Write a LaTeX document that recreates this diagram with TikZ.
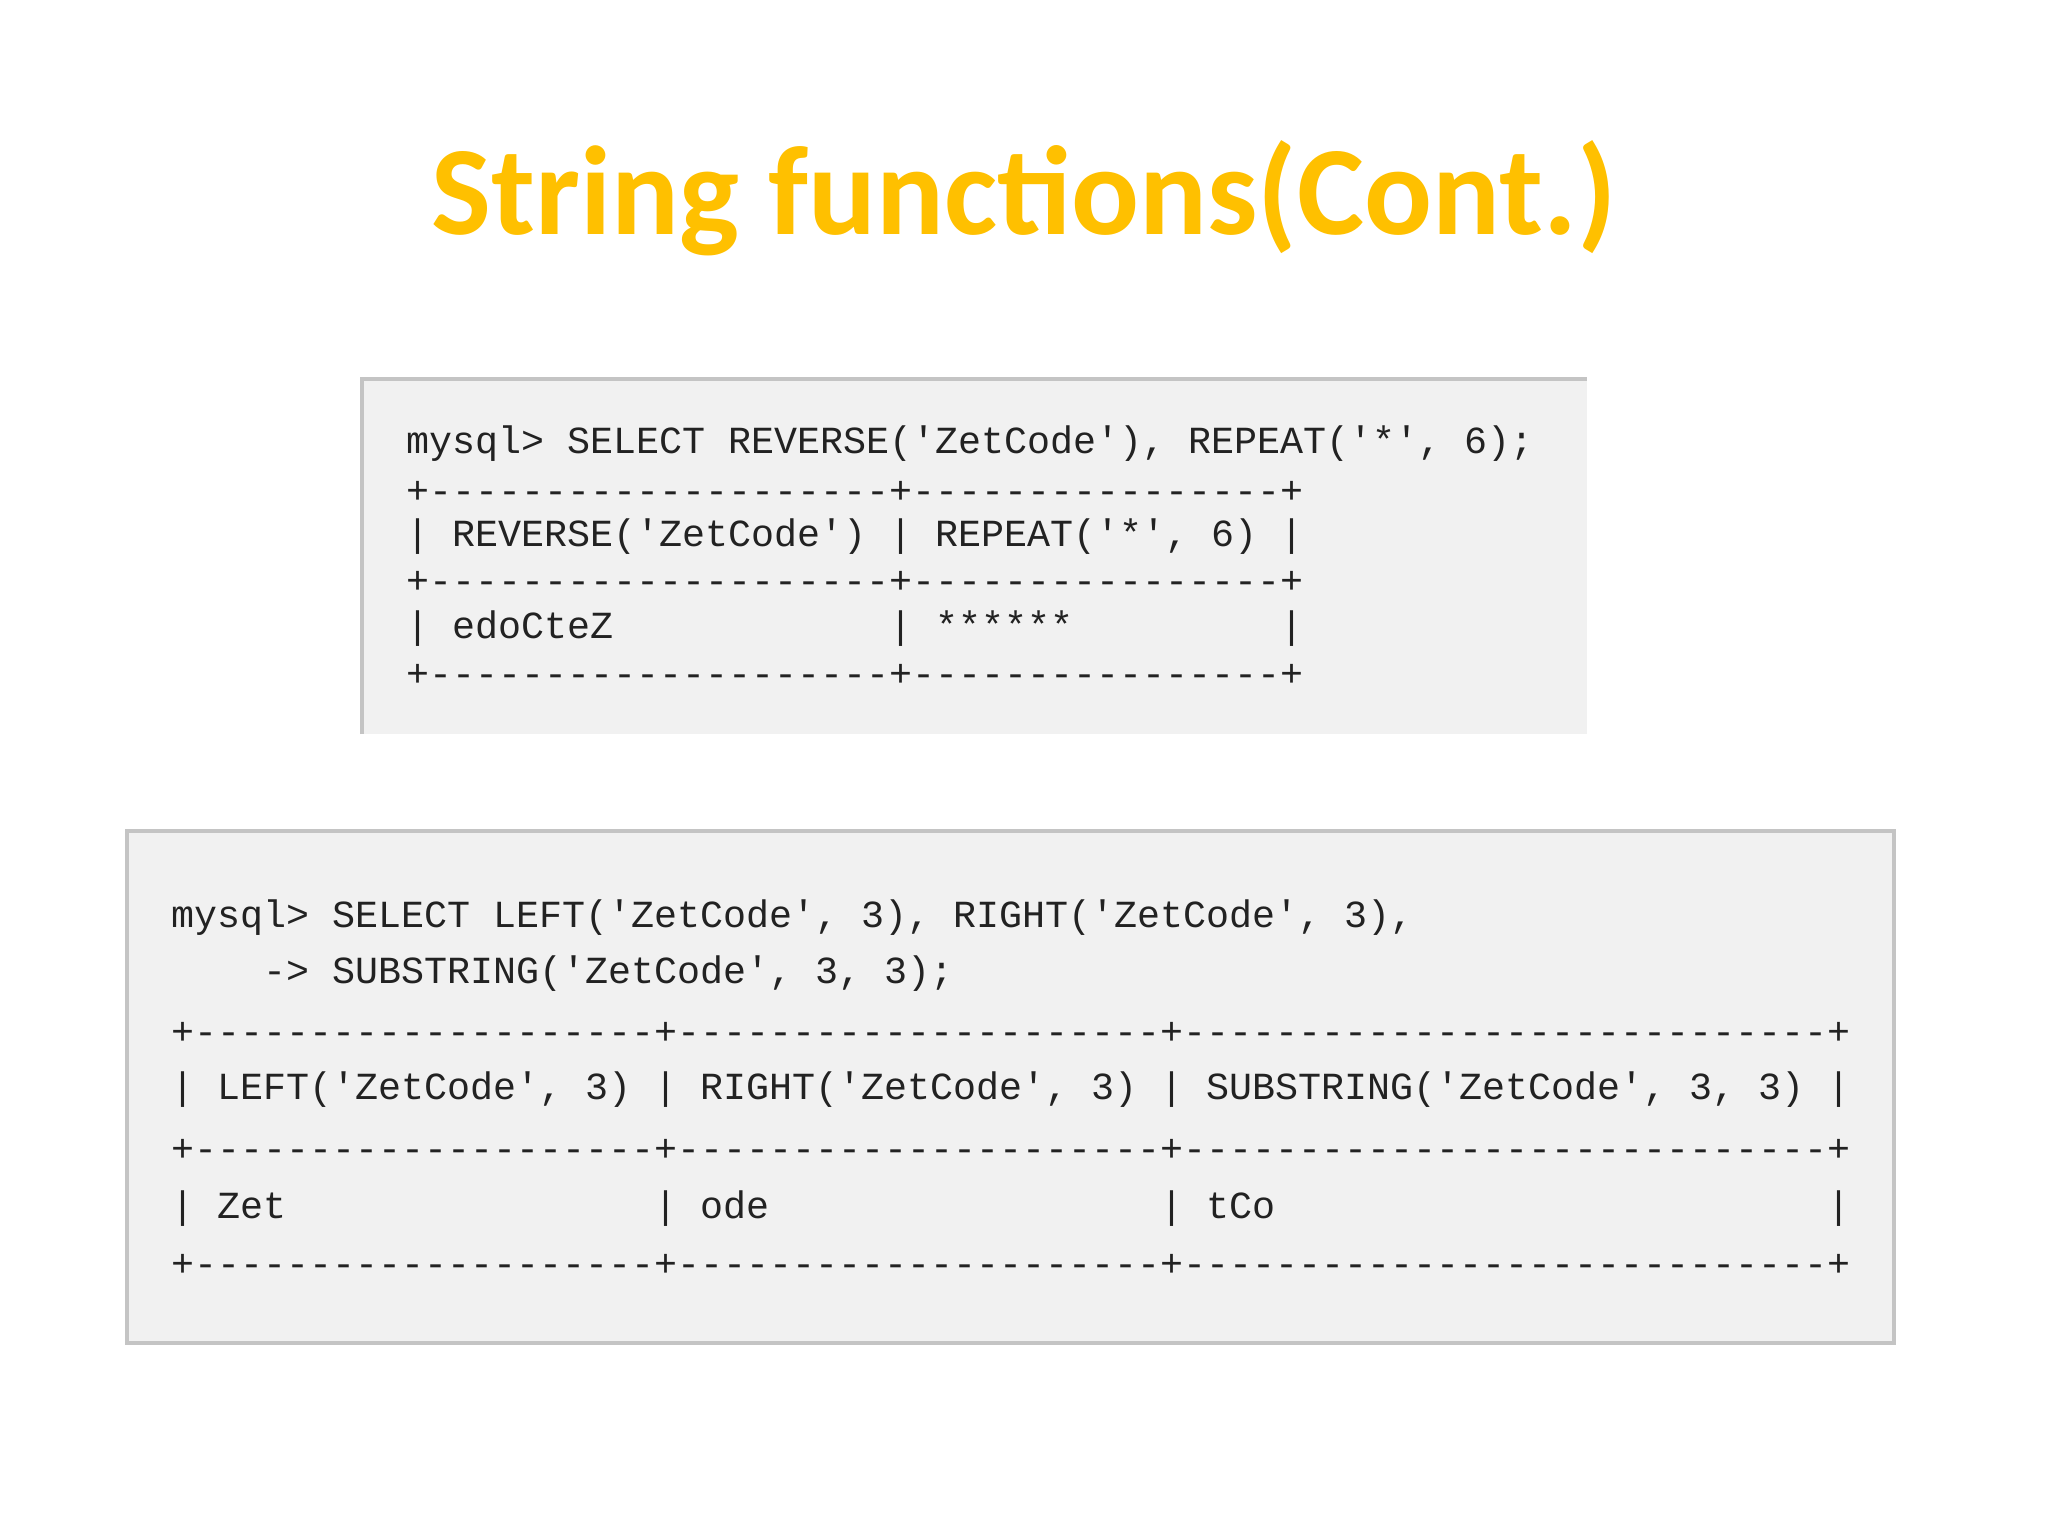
\documentclass[tikz,border=0pt]{standalone}
\usepackage{fontspec}
\setmainfont{Carlito}
\setmonofont{Liberation Mono}
\definecolor{titlegold}{HTML}{FFC000}
\definecolor{codebg}{HTML}{F1F1F1}
\definecolor{codeedge}{HTML}{C4C4C4}
\definecolor{codeink}{HTML}{222222}
\begin{document}
\begin{tikzpicture}[x=0.01cm,y=-0.01cm,
  code/.style={anchor=west,inner sep=0,text=codeink,font=\ttfamily\fontsize{10.9}{13}\selectfont},
  panel/.style={fill=codebg,draw=none}]
  \useasboundingbox[fill=white] (0,0) rectangle (2048,1536);
  % title
  \node (title) at (1024,198) [text=titlegold,font=\bfseries\fontsize{36}{42}\selectfont] {String functions(Cont.)};
  % first box
  \fill[panel] (362,379) rectangle (1587,734);
  \draw[codeedge,line width=1pt] (362,734) -- (362,379) -- (1587,379);
  \node (qa) at (406,444) [code] {mysql> SELECT REVERSE('ZetCode'), REPEAT('*', 6);};
  \node (ra) at (406,492) [code] {+--------------------+----------------+};
  \node (rb) at (406,537) [code] {| REVERSE('ZetCode') | REPEAT('*', 6) |};
  \node (rc) at (406,582) [code] {+--------------------+----------------+};
  \node (rd) at (406,629) [code] {|~edoCteZ~~~~~~~~~~~~|~******~~~~~~~~~|};
  \node (re) at (406,675) [code] {+--------------------+----------------+};
  % second box
  \fill[panel] (127,831) rectangle (1894,1343);
  \draw[codeedge,line width=1pt] (127,831) rectangle (1894,1343);
  \node (qb) at (171,918) [code] {mysql> SELECT LEFT('ZetCode', 3), RIGHT('ZetCode', 3),};
  \node (qc) at (171,974) [code] {~~~~-> SUBSTRING('ZetCode', 3, 3);};
  \node (sa) at (171,1033) [code] {+--------------------+---------------------+----------------------------+};
  \node (sb) at (171,1090) [code] {| LEFT('ZetCode', 3) | RIGHT('ZetCode', 3) | SUBSTRING('ZetCode', 3, 3) |};
  \node (sc) at (171,1150) [code] {+--------------------+---------------------+----------------------------+};
  \node (sd) at (171,1209) [code] {|~Zet~~~~~~~~~~~~~~~~|~ode~~~~~~~~~~~~~~~~~|~tCo~~~~~~~~~~~~~~~~~~~~~~~~|};
  \node (se) at (171,1265) [code] {+--------------------+---------------------+----------------------------+};
\end{tikzpicture}
\end{document}
